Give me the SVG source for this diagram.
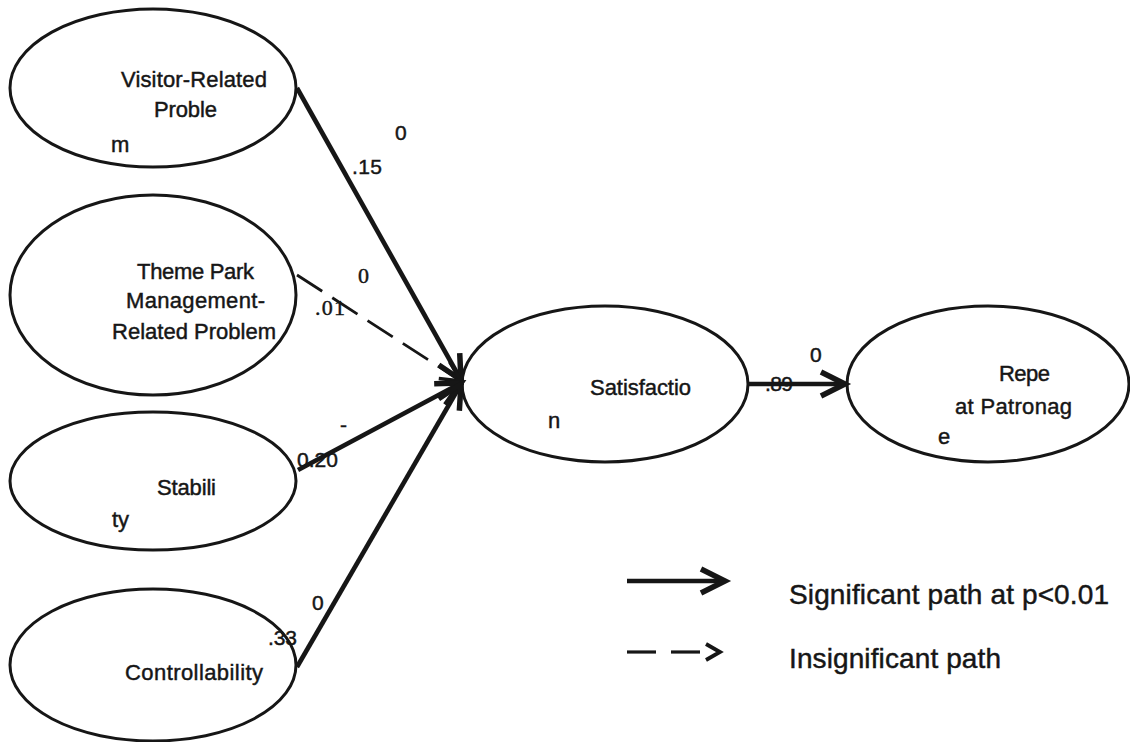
<svg xmlns="http://www.w3.org/2000/svg" width="1130" height="742" viewBox="0 0 1130 742">
  <style>
    .node { fill: #ffffff; stroke: #161616; stroke-width: 3; }
    text { stroke: #161616; stroke-width: 0.45; }
    .lbl { font-family: "Liberation Sans", Arial, sans-serif; font-size: 22px; fill: #161616; }
    .num { font-family: "Liberation Sans", Arial, sans-serif; font-size: 21px; fill: #161616; }
    .numserif { font-family: "Liberation Serif", "Times New Roman", serif; font-size: 22px; fill: #161616; }
    .leg { font-family: "Liberation Sans", Arial, sans-serif; font-size: 28px; fill: #161616; }
    .sig { stroke: #161616; stroke-width: 4.6; fill: none; }
    .insig { stroke: #161616; stroke-width: 2.8; fill: none; stroke-dasharray: 30 12; }
  </style>
  <defs>
    <marker id="headSolid" viewBox="-30 -16 36 32" refX="0" refY="0" markerWidth="36" markerHeight="32" markerUnits="userSpaceOnUse" orient="auto" overflow="visible">
      <path d="M-24,-12 L0,0 L-24,12" fill="none" stroke="#161616" stroke-width="5.5"/>
    </marker>
    <marker id="headDash" viewBox="-30 -16 36 32" refX="0" refY="0" markerWidth="36" markerHeight="32" markerUnits="userSpaceOnUse" orient="auto" overflow="visible">
      <path d="M-20,-10 L0,0 L-20,10" fill="none" stroke="#161616" stroke-width="3.5"/>
    </marker>
  </defs>
  <rect width="1130" height="742" fill="#ffffff"/>

  <g id="node-visitor">
    <ellipse class="node" cx="153" cy="88" rx="143" ry="79"/>
    <text class="lbl" x="121" y="87" textLength="146">Visitor-Related</text>
    <text class="lbl" x="154" y="117" textLength="63">Proble</text>
    <text class="lbl" x="111" y="152">m</text>
  </g>
  <g id="node-themepark">
    <ellipse class="node" cx="153" cy="295" rx="143" ry="100"/>
    <text class="lbl" x="137" y="279" textLength="117">Theme Park</text>
    <text class="lbl" x="126" y="308" textLength="139">Management-</text>
    <text class="lbl" x="112" y="339" textLength="164">Related Problem</text>
  </g>
  <g id="node-stability">
    <ellipse class="node" cx="153" cy="481" rx="143" ry="69"/>
    <text class="lbl" x="157" y="495" textLength="59">Stabili</text>
    <text class="lbl" x="112" y="527">ty</text>
  </g>
  <g id="node-controllability">
    <ellipse class="node" cx="153" cy="665" rx="143" ry="76"/>
    <text class="lbl" x="125" y="680" textLength="138">Controllability</text>
  </g>
  <g id="node-satisfaction">
    <ellipse class="node" cx="605" cy="384" rx="143" ry="78"/>
    <text class="lbl" x="590" y="395" textLength="101">Satisfactio</text>
    <text class="lbl" x="548" y="428">n</text>
  </g>
  <g id="node-repeat">
    <ellipse class="node" cx="988" cy="384" rx="141" ry="78"/>
    <text class="lbl" x="999" y="381" textLength="51">Repe</text>
    <text class="lbl" x="955" y="414" textLength="117">at Patronag</text>
    <text class="lbl" x="938" y="444">e</text>
  </g>

  <g id="path-labels">
    <text class="num" x="395" y="140">0</text>
    <text class="num" x="352" y="174" textLength="30">.15</text>
    <text class="numserif" x="358" y="283">0</text>
    <text class="numserif" x="315" y="315" textLength="30">.01</text>
    <text class="num" x="340" y="432">-</text>
    <text class="num" x="297" y="467" textLength="41">0.20</text>
    <text class="num" x="312" y="610">0</text>
    <text class="num" x="268" y="645" textLength="29">.33</text>
    <text class="num" x="810" y="362">0</text>
    <text class="num" x="765" y="391" textLength="28">.89</text>
  </g>

  <g id="connectors">
    <line class="sig" x1="297" y1="88" x2="461" y2="380" marker-end="url(#headSolid)"/>
    <line class="insig" x1="297" y1="275" x2="461" y2="381" marker-end="url(#headDash)"/>
    <line class="sig" x1="298" y1="470" x2="461" y2="383" stroke-width="5" marker-end="url(#headSolid)"/>
    <line class="sig" x1="297" y1="667" x2="461" y2="384" marker-end="url(#headSolid)"/>
    <line class="sig" x1="747" y1="384" x2="845" y2="384" stroke-width="5.5" marker-end="url(#headSolid)"/>
  </g>

  <g id="legend">
    <line class="sig" x1="627" y1="581" x2="725" y2="581" stroke-width="5.5" marker-end="url(#headSolid)"/>
    <line x1="627" y1="652" x2="656" y2="652" stroke="#161616" stroke-width="3.2"/>
    <line x1="671" y1="652" x2="700" y2="652" stroke="#161616" stroke-width="3.2"/>
    <path d="M706,644 L720,652 L706,660" fill="none" stroke="#161616" stroke-width="3.8"/>
    <text class="leg" x="789" y="604" textLength="320">Significant path at p&lt;0.01</text>
    <text class="leg" x="789" y="668" textLength="212">Insignificant path</text>
  </g>
</svg>
